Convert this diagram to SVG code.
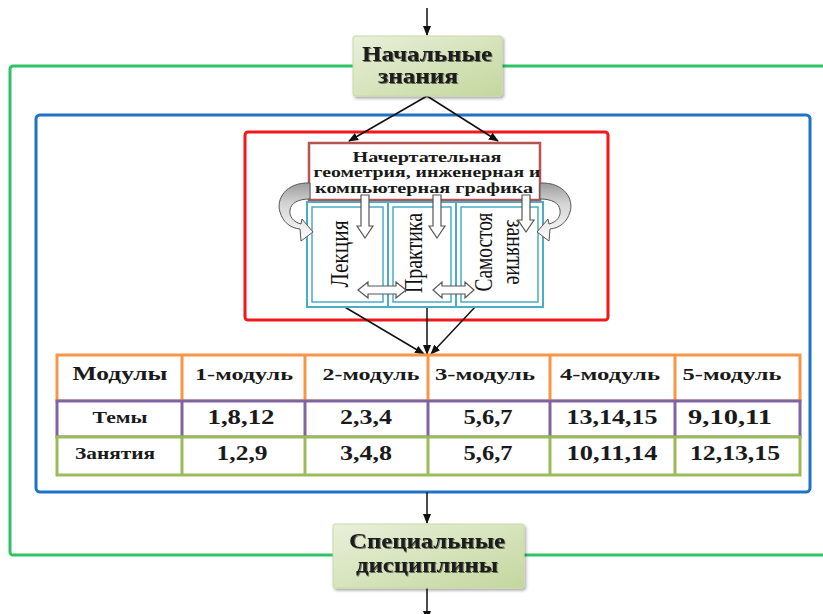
<svg xmlns="http://www.w3.org/2000/svg" width="823" height="614" viewBox="0 0 823 614">
<defs>
<linearGradient id="boxg" x1="0" y1="0" x2="1" y2="1">
<stop offset="0" stop-color="#E9F0DA"/>
<stop offset="1" stop-color="#C4D79E"/>
</linearGradient>
<linearGradient id="curveg" x1="0" y1="183" x2="0" y2="242" gradientUnits="userSpaceOnUse">
<stop offset="0" stop-color="#9C9C9C"/>
<stop offset="0.35" stop-color="#D4D4D4"/>
<stop offset="1" stop-color="#FFFFFF"/>
</linearGradient>
<filter id="sh" x="-10%" y="-10%" width="130%" height="140%">
<feDropShadow dx="1.5" dy="2" stdDeviation="1.5" flood-color="#000" flood-opacity="0.35"/>
</filter>
<filter id="tsh" x="-10%" y="-30%" width="120%" height="160%">
<feDropShadow dx="1" dy="1" stdDeviation="0.6" flood-color="#000" flood-opacity="0.5"/>
</filter>
<marker id="ah" markerWidth="10" markerHeight="10" refX="9" refY="5" orient="auto" markerUnits="userSpaceOnUse">
<path d="M0,1 L10,5 L0,9 Z" fill="#111"/>
</marker>
</defs>
<style>
.t{font-family:"Liberation Serif","DejaVu Serif",serif;font-weight:bold;fill:#1a1a1a;text-anchor:middle}
.v{font-family:"Liberation Serif","DejaVu Serif",serif;fill:#111;text-anchor:middle}
.ln{stroke:#111;stroke-width:1.5;fill:none}
.blk{fill:#fff;stroke:#555;stroke-width:1.2}
.teal{fill:none;stroke:#4BACC6}
.cell{fill:#fff;stroke-width:3}
</style>
<rect width="823" height="614" fill="#fff"/>

<g id="frames">
<rect x="10" y="66" width="830" height="489" rx="3" fill="none" stroke="#2EC466" stroke-width="3"/>
<rect x="36" y="115" width="774" height="377" rx="4" fill="none" stroke="#1E73C8" stroke-width="3"/>
<rect x="245" y="132" width="363" height="188" rx="3" fill="none" stroke="#F01818" stroke-width="3"/>
</g>

<g id="connectors">
<line class="ln" x1="427" y1="8" x2="427" y2="35" marker-end="url(#ah)"/>
<line class="ln" x1="427" y1="96" x2="349" y2="141" marker-end="url(#ah)"/>
<line class="ln" x1="427" y1="96" x2="498" y2="141" marker-end="url(#ah)"/>
<line class="ln" x1="343" y1="306" x2="424" y2="354" marker-end="url(#ah)"/>
<line class="ln" x1="427" y1="302" x2="427" y2="354" marker-end="url(#ah)"/>
<line class="ln" x1="476" y1="306" x2="431" y2="354" marker-end="url(#ah)"/>
<line class="ln" x1="427" y1="492" x2="427" y2="523" marker-end="url(#ah)"/>
<line class="ln" x1="427" y1="588" x2="427" y2="620" marker-end="url(#ah)"/>
</g>

<g id="start">
<rect x="353" y="36" width="149" height="60" rx="2" fill="url(#boxg)" stroke="#C9D9A8" stroke-width="1" filter="url(#sh)"/>
<text class="t" x="427" y="61" font-size="21" textLength="130" lengthAdjust="spacingAndGlyphs" filter="url(#tsh)">Начальные</text>
<text class="t" x="418" y="83" font-size="21" textLength="80" lengthAdjust="spacingAndGlyphs" filter="url(#tsh)">знания</text>
</g>

<g id="course">
<rect x="309" y="143" width="231" height="57" fill="#fff" stroke="#B85450" stroke-width="2.5"/>
<text class="t" x="427" y="162" font-size="14" textLength="149" lengthAdjust="spacingAndGlyphs">Начертательная</text>
<text class="t" x="427" y="177" font-size="14" textLength="227" lengthAdjust="spacingAndGlyphs">геометрия, инженерная и</text>
<text class="t" x="424" y="193" font-size="14" textLength="218" lengthAdjust="spacingAndGlyphs">компьютерная графика</text>
</g>

<g id="panels">
<rect x="307" y="202" width="236" height="105" fill="#fff" stroke="none"/>
<rect class="teal" x="307" y="202" width="81" height="105" stroke-width="2"/>
<rect class="teal" x="312" y="207" width="71" height="95" stroke-width="1.5"/>
<rect class="teal" x="388" y="202" width="68" height="105" stroke-width="2"/>
<rect class="teal" x="393" y="207" width="58" height="95" stroke-width="1.5"/>
<rect class="teal" x="456" y="202" width="87" height="105" stroke-width="2"/>
<rect class="teal" x="461" y="207" width="77" height="95" stroke-width="1.5"/>
<text class="v" font-size="19" textLength="67" lengthAdjust="spacingAndGlyphs" transform="translate(348,254) scale(1.35,1) rotate(-90)">Лекция</text>
<text class="v" font-size="19" textLength="80" lengthAdjust="spacingAndGlyphs" transform="translate(422,253) scale(1.35,1) rotate(-90)">Практика</text>
<text class="v" font-size="19" textLength="79" lengthAdjust="spacingAndGlyphs" transform="translate(492,252) scale(1.35,1) rotate(-90)">Самостоя</text>
<text class="v" font-size="19" textLength="65" lengthAdjust="spacingAndGlyphs" transform="translate(507,252) scale(1.35,1) rotate(90)">занятие</text>
</g>

<g id="block-arrows">
<path class="blk" d="M361,195 L369,195 L369,226 L373,226 L365,238 L357,226 L361,226 Z"/>
<path class="blk" d="M433,195 L441,195 L441,226 L445,226 L437,238 L429,226 L433,226 Z"/>
<path class="blk" d="M522,195 L530,195 L530,220 L534,220 L526,232 L518,220 L522,220 Z"/>
<path class="blk" d="M358,290 L368,282 L368,286 L396,286 L396,282 L406,290 L396,298 L396,294 L368,294 L368,298 Z"/>
<path class="blk" d="M433,290 L442,282 L442,286 L465,286 L465,282 L474,290 L465,298 L465,294 L442,294 L442,298 Z"/>
</g>

<g id="curved-arrows">
<path d="M310,183 C285,182 276,200 280,212 C283,222 290,228 300,229 L301,241 L313,232 L302,219 L301,224 C293,222 289,216 290,210 C291,203 298,199 310,199 Z" fill="url(#curveg)" stroke="#555" stroke-width="1"/>
<path d="M310,183 C285,182 276,200 280,212 C283,222 290,228 300,229 L301,241 L313,232 L302,219 L301,224 C293,222 289,216 290,210 C291,203 298,199 310,199 Z" fill="url(#curveg)" stroke="#555" stroke-width="1" transform="translate(850,0) scale(-1,1)"/>
</g>

<g id="table">
<g id="row-modules">
<rect class="cell" x="57" y="355" width="743" height="46" stroke="#F79646"/>
<path d="M182,355V401M305,355V401M428,355V401M550,355V401M675,355V401" stroke="#F79646" stroke-width="3"/>
<text class="t" x="120" y="380" font-size="19" textLength="95" lengthAdjust="spacingAndGlyphs">Модулы</text>
<text class="t" x="244" y="380" font-size="17" textLength="98" lengthAdjust="spacingAndGlyphs">1-модуль</text>
<text class="t" x="371" y="380" font-size="17" textLength="97" lengthAdjust="spacingAndGlyphs">2-модуль</text>
<text class="t" x="485" y="380" font-size="17" textLength="100" lengthAdjust="spacingAndGlyphs">3-модуль</text>
<text class="t" x="610" y="380" font-size="17" textLength="100" lengthAdjust="spacingAndGlyphs">4-модуль</text>
<text class="t" x="732" y="380" font-size="17" textLength="99" lengthAdjust="spacingAndGlyphs">5-модуль</text>
</g>
<g id="row-topics">
<rect class="cell" x="57" y="401" width="743" height="36" stroke="#8064A2"/>
<path d="M182,401V437M305,401V437M428,401V437M550,401V437M675,401V437" stroke="#8064A2" stroke-width="3"/>
<text class="t" x="120" y="423" font-size="16" textLength="55" lengthAdjust="spacingAndGlyphs">Темы</text>
<text class="t" x="241" y="424" font-size="20" textLength="67" lengthAdjust="spacingAndGlyphs">1,8,12</text>
<text class="t" x="366" y="424" font-size="20" textLength="52" lengthAdjust="spacingAndGlyphs">2,3,4</text>
<text class="t" x="488" y="424" font-size="20" textLength="49" lengthAdjust="spacingAndGlyphs">5,6,7</text>
<text class="t" x="612" y="424" font-size="20" textLength="91" lengthAdjust="spacingAndGlyphs">13,14,15</text>
<text class="t" x="730" y="424" font-size="20" textLength="84" lengthAdjust="spacingAndGlyphs">9,10,11</text>
</g>
<g id="row-lessons">
<rect class="cell" x="57" y="437" width="743" height="38" stroke="#9BBB59"/>
<path d="M182,437V475M305,437V475M428,437V475M550,437V475M675,437V475" stroke="#9BBB59" stroke-width="3"/>
<text class="t" x="115" y="459" font-size="16" textLength="80" lengthAdjust="spacingAndGlyphs">Занятия</text>
<text class="t" x="242" y="460" font-size="20" textLength="51" lengthAdjust="spacingAndGlyphs">1,2,9</text>
<text class="t" x="366" y="460" font-size="20" textLength="52" lengthAdjust="spacingAndGlyphs">3,4,8</text>
<text class="t" x="488" y="460" font-size="20" textLength="49" lengthAdjust="spacingAndGlyphs">5,6,7</text>
<text class="t" x="612" y="460" font-size="20" textLength="91" lengthAdjust="spacingAndGlyphs">10,11,14</text>
<text class="t" x="735" y="460" font-size="20" textLength="90" lengthAdjust="spacingAndGlyphs">12,13,15</text>
</g>
</g>

<g id="special">
<rect x="333" y="524" width="191" height="64" rx="2" fill="url(#boxg)" stroke="#C9D9A8" stroke-width="1" filter="url(#sh)"/>
<text class="t" x="427" y="548" font-size="21" textLength="156" lengthAdjust="spacingAndGlyphs" filter="url(#tsh)">Специальные</text>
<text class="t" x="427" y="572" font-size="21" textLength="142" lengthAdjust="spacingAndGlyphs" filter="url(#tsh)">дисциплины</text>
</g>
</svg>
